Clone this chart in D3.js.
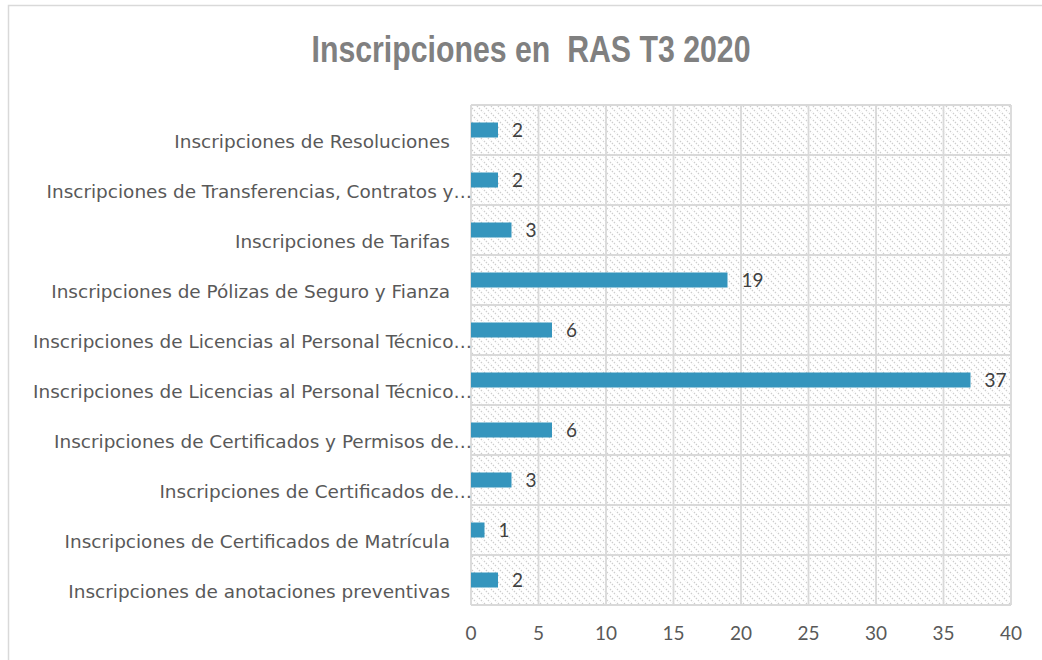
<!DOCTYPE html>
<html>
<head>
<meta charset="utf-8">
<script src="https://cdn.jsdelivr.net/npm/d3@7"></script>
<style>
  body { margin: 0; background: #fff; }
  svg { display: block; }
</style>
</head>
<body>
<div id="chart"></div>
<script>
let w = 1042;
let h = 660;

// data, top to bottom as shown
const categories = [
    "Inscripciones de Resoluciones",
    "Inscripciones de Transferencias, Contratos y…",
    "Inscripciones de Tarifas",
    "Inscripciones de Pólizas de Seguro y Fianza",
    "Inscripciones de Licencias al Personal Técnico…",
    "Inscripciones de Licencias al Personal Técnico… ",
    "Inscripciones de Certificados y Permisos de…",
    "Inscripciones de Certificados de…",
    "Inscripciones de Certificados de Matrícula",
    "Inscripciones de anotaciones preventivas"
];
const values = [2, 2, 3, 19, 6, 37, 6, 3, 1, 2];
const xTicks = [0, 5, 10, 15, 20, 25, 30, 35, 40];

const dataset = categories.map((c, i) => ({ cat: c, value: values[i] }));

let margin = { left: 471, right: 31, top: 105, bottom: 55 };

let svg = d3.select("#chart")
    .append("svg")
    .attr("width", w)
    .attr("height", h);

// hatch pattern for the plot background
let defs = svg.append("defs");
let pat = defs.append("pattern")
    .attr("id", "hatch")
    .attr("patternUnits", "userSpaceOnUse")
    .attr("width", 7)
    .attr("height", 7);
pat.append("path")
    .attr("d", "M-1,-1 L8,8 M-1,6 L1,8 M6,-1 L8,1")
    .style("stroke", "#cdcdcd")
    .style("stroke-width", 1.3)
    .style("stroke-dasharray", "1.4 1.4");

// outer chart border
svg.append("rect")
    .attr("x", 8.5)
    .attr("y", 5.5)
    .attr("width", w + 10)
    .attr("height", h + 10)
    .style("fill", "none")
    .style("stroke", "#d9d9d9")
    .style("stroke-width", 1.5);

let xScale = d3.scaleLinear()
    .domain([0, 40])
    .range([margin.left, w - margin.right]);

let yScale = d3.scaleBand()
    .domain(categories)
    .range([margin.top, h - margin.bottom])
    .paddingInner(0.7)
    .paddingOuter(0.35);

let rowH = (h - margin.bottom - margin.top) / categories.length;

// background
svg.append("rect")
    .attr("x", xScale(0))
    .attr("y", margin.top)
    .attr("width", xScale(40) - xScale(0))
    .attr("height", h - margin.bottom - margin.top)
    .style("fill", "url(#hatch)");

// vertical gridlines
svg.append("g")
    .selectAll("line")
    .data(xTicks)
    .enter()
    .append("line")
    .attr("x1", d => xScale(d))
    .attr("x2", d => xScale(d))
    .attr("y1", margin.top)
    .attr("y2", h - margin.bottom)
    .style("stroke", "#d9d9d9")
    .style("stroke-width", 1.8);

// horizontal gridlines (row boundaries)
svg.append("g")
    .selectAll("line")
    .data(d3.range(categories.length + 1))
    .enter()
    .append("line")
    .attr("x1", xScale(0))
    .attr("x2", xScale(40))
    .attr("y1", d => margin.top + d * rowH)
    .attr("y2", d => margin.top + d * rowH)
    .style("stroke", "#d9d9d9")
    .style("stroke-width", 1.8);

// bars
svg.append("g")
    .selectAll("rect")
    .data(dataset)
    .enter()
    .append("rect")
    .attr("x", xScale(0))
    .attr("y", d => yScale(d.cat))
    .attr("width", d => xScale(d.value) - xScale(0))
    .attr("height", yScale.bandwidth())
    .style("fill", "#3595bd");

// value labels
svg.append("g")
    .selectAll("text")
    .data(dataset)
    .enter()
    .append("text")
    .attr("x", d => xScale(d.value) + 14)
    .attr("y", d => yScale(d.cat) + yScale.bandwidth() / 2)
    .attr("dy", "0.36em")
    .style("font-family", "Lato, sans-serif")
    .style("font-size", "19px")
    .style("fill", "#404040")
    .text(d => d.value);

// category labels
let catLabels = svg.append("g")
    .selectAll("text")
    .data(dataset)
    .enter()
    .append("text")
    .attr("x", d => d.cat.trim().endsWith("…") ? 472 : 450)
    .attr("y", d => yScale(d.cat) + yScale.bandwidth() / 2 + 11)
    .attr("dy", "0.36em")
    .attr("text-anchor", "end")
    .style("font-family", "'DejaVu Sans', sans-serif")
    .style("font-size", "16px")
    .style("fill", "#595959")
    .text(d => d.cat.trim());

// fit font size so the widest full label matches the picture
let ref = catLabels.filter(d => d.cat === "Inscripciones de anotaciones preventivas").node();
let fs = 16 * 382 / ref.getComputedTextLength();
catLabels.style("font-size", fs + "px");

// x axis tick labels
svg.append("g")
    .selectAll("text")
    .data(xTicks)
    .enter()
    .append("text")
    .attr("x", d => xScale(d))
    .attr("y", 633)
    .attr("dy", "0.36em")
    .attr("text-anchor", "middle")
    .style("font-family", "Lato, sans-serif")
    .style("font-size", "19px")
    .style("fill", "#595959")
    .text(d => d);

// title, condensed bold
let title = svg.append("text")
    .attr("text-anchor", "middle")
    .style("font-family", "'Liberation Sans', sans-serif")
    .style("font-weight", "bold")
    .style("font-size", "37px")
    .style("fill", "#808080")
    .style("white-space", "pre")
    .text("Inscripciones en  RAS T3 2020");
let tw = title.node().getComputedTextLength();
title.attr("transform", "translate(531,62) scale(" + (439 / tw) + ",1)");
</script>
</body>
</html>
